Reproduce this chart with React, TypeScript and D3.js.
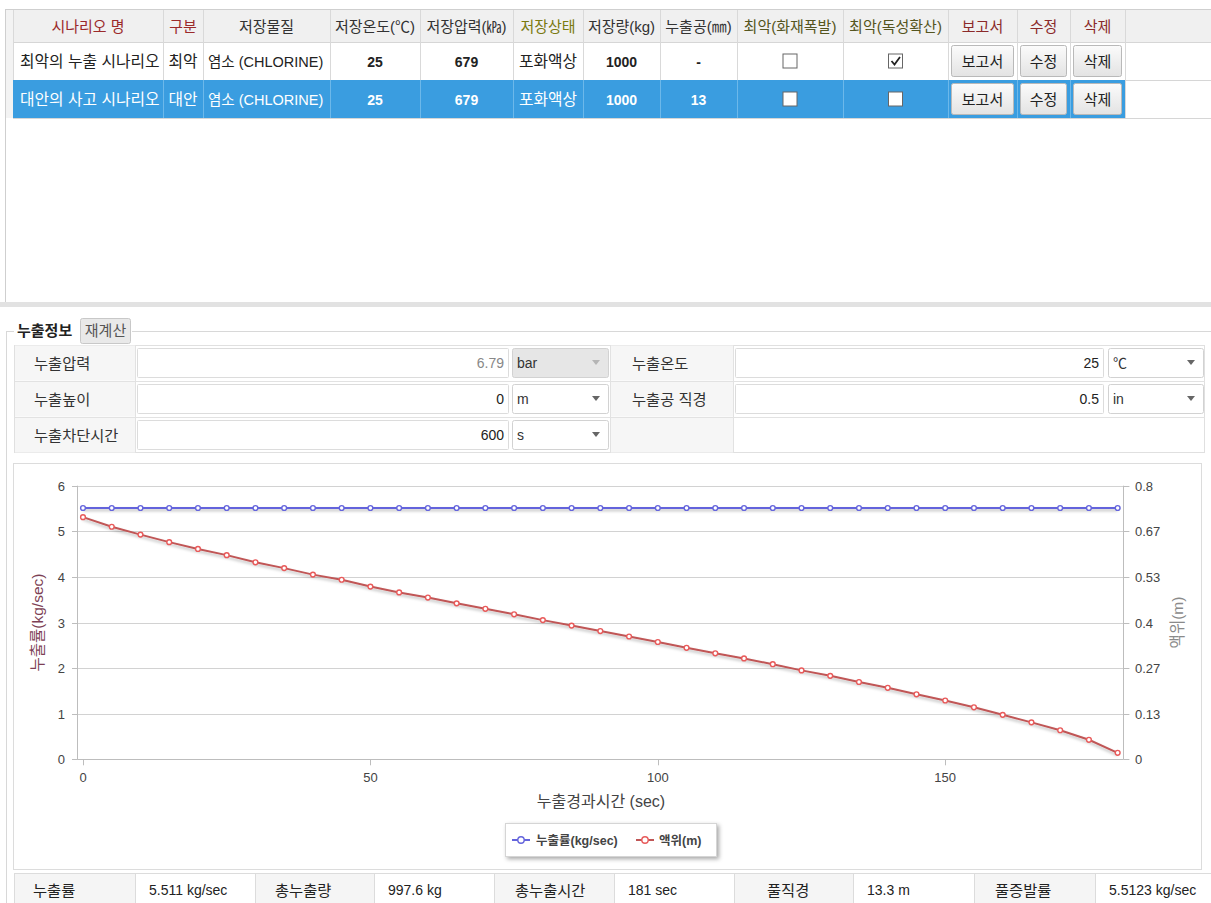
import React from 'react';
import * as d3 from 'd3';

// ---------- DATA ----------
const columns = ['시나리오 명', '구분', '저장물질', '저장온도(℃)', '저장압력(㎪)', '저장상태', '저장량(kg)', '누출공(㎜)', '최악(화재폭발)', '최악(독성확산)', '보고서', '수정', '삭제'];
const scenarioNames = ['최악의 누출 시나리오', '대안의 사고 시나리오'];
const scenarioTypes = ['최악', '대안'];
const substances = ['염소 (CHLORINE)', '염소 (CHLORINE)'];
const storageTemps = ['25', '25'];
const storagePressures = ['679', '679'];
const storageStates = ['포화액상', '포화액상'];
const storageAmounts = ['1000', '1000'];
const holeSizes = ['-', '13'];
const fireChecked = [false, false];
const toxicChecked = [true, false];
const buttonLabels = ['보고서', '수정', '삭제'];

const formLabelsLeft = ['누출압력', '누출높이', '누출차단시간'];
const formValuesLeft = ['6.79', '0', '600'];
const formUnitsLeft = ['bar', 'm', 's'];
const formLabelsRight = ['누출온도', '누출공 직경'];
const formValuesRight = ['25', '0.5'];
const formUnitsRight = ['℃', 'in'];

const timeSec = [0, 5, 10, 15, 20, 25, 30, 35, 40, 45, 50, 55, 60, 65, 70, 75, 80, 85, 90, 95, 100, 105, 110, 115, 120, 125, 130, 135, 140, 145, 150, 155, 160, 165, 170, 175, 180];
const leakRate = [5.511, 5.511, 5.511, 5.511, 5.511, 5.511, 5.511, 5.511, 5.511, 5.511, 5.511, 5.511, 5.511, 5.511, 5.511, 5.511, 5.511, 5.511, 5.511, 5.511, 5.511, 5.511, 5.511, 5.511, 5.511, 5.511, 5.511, 5.511, 5.511, 5.511, 5.511, 5.511, 5.511, 5.511, 5.511, 5.511, 5.511];
const liquidLevel = [0.708, 0.680, 0.657, 0.635, 0.615, 0.597, 0.576, 0.559, 0.540, 0.525, 0.505, 0.488, 0.473, 0.456, 0.440, 0.424, 0.407, 0.391, 0.375, 0.359, 0.343, 0.326, 0.310, 0.295, 0.278, 0.260, 0.244, 0.226, 0.209, 0.190, 0.172, 0.152, 0.130, 0.108, 0.085, 0.057, 0.019];
const leftTicks = [0, 1, 2, 3, 4, 5, 6];
const rightTickLabels = ['0', '0.13', '0.27', '0.4', '0.53', '0.67', '0.8'];
const xTicks = [0, 50, 100, 150];
const seriesNames = ['누출률(kg/sec)', '액위(m)'];

const summaryLabels = ['누출률', '총누출량', '총누출시간', '풀직경', '풀증발률'];
const summaryValues = ['5.511 kg/sec', '997.6 kg', '181 sec', '13.3 m', '5.5123 kg/sec'];

// ---------- LAYOUT ----------
const FONT = "'Liberation Sans', Arial, 'Noto Sans CJK KR', sans-serif";
const W = 1211;
const H = 903;
const COL_EDGES = [13, 163, 203, 330, 420, 513, 583, 660, 737, 843, 948, 1017, 1070, 1125];
const HEADER_COLORS = ['#9b2a2a', '#9b2a2a', '#333', '#333', '#333', '#7a7a10', '#333', '#333', '#555520', '#555520', '#8b2a2a', '#8b2a2a', '#8b2a2a'];
const HEADER_Y = 10, HEADER_H = 32, ROW_H = 38;
const SEL_BLUE = '#3a9de0';
const BLUE = '#6464dc';
const RED_LINE = '#c05656';
const RED_MARK = '#e85a5a';

const SUMMARY_EDGES = [14, 135, 255, 374, 494, 614, 734, 853, 974, 1095, 1211];
const SUMMARY_LABEL_X = [33, 275, 515, 767, 995];

const x = d3.scaleLinear().domain([-1, 181]).range([77.25, 1123.4]);
const yL = d3.scaleLinear().domain([0, 6]).range([759.3, 485.7]);
const yR = d3.scaleLinear().domain([0, 0.8]).range([759.3, 485.7]);

function Checkbox({ cx, cy, checked }: { cx: number; cy: number; checked: boolean }) {
  return (
    <g>
      <rect x={cx - 7} y={cy - 7} width={14} height={14} fill="#fff" stroke="#666" strokeWidth={1} />
      {checked && <path d={`M${cx - 4},${cy} L${cx - 1},${cy + 3.5} L${cx + 4.5},${cy - 4}`} fill="none" stroke="#222" strokeWidth={1.8} />}
    </g>
  );
}

function Button({ x0, x1, y0, label }: { x0: number; x1: number; y0: number; label: string }) {
  return (
    <g>
      <rect x={x0 + 3.5} y={y0 + 3.5} width={x1 - x0 - 7} height={ROW_H - 7} rx={2} fill="url(#btnGrad)" stroke="#b9b9b9" />
      <text x={(x0 + x1) / 2} y={y0 + ROW_H / 2 + 5.5} textAnchor="middle" fontSize={15} fill="#222" fontFamily={FONT}>{label}</text>
    </g>
  );
}

function Select({ x0, x1, y0, h, label, disabled }: { x0: number; x1: number; y0: number; h: number; label: string; disabled?: boolean }) {
  const cy = y0 + h / 2;
  return (
    <g>
      <rect x={x0 + 0.5} y={y0 + 0.5} width={x1 - x0} height={h} rx={2} fill={disabled ? '#e6e6e6' : '#fff'} stroke="#d2d2d2" />
      <text x={x0 + 5} y={cy + 5} fontSize={14} fill="#333" fontFamily={FONT}>{label}</text>
      <path d={`M${x1 - 16},${cy - 2.5} L${x1 - 8},${cy - 2.5} L${x1 - 12},${cy + 2.5} Z`} fill={disabled ? '#b5b5b5' : '#666'} />
    </g>
  );
}

export default function App() {
  const rows = scenarioNames.map((name, i) => ({
    name, type: scenarioTypes[i], sub: substances[i], temp: storageTemps[i], pres: storagePressures[i],
    state: storageStates[i], amt: storageAmounts[i], hole: holeSizes[i], fire: fireChecked[i], toxic: toxicChecked[i],
  }));

  const blueLine = d3.line<number>().x((_, i) => x(timeSec[i])).y((d) => yL(d))(leakRate) || '';
  const redLine = d3.line<number>().x((_, i) => x(timeSec[i])).y((d) => yR(d))(liquidLevel) || '';

  const formRowY = [345, 381, 417];
  const formRowH = 36;

  return (
    <svg width={W} height={H} style={{ position: 'absolute', left: 0, top: 0, background: '#fff' }} fontFamily={FONT}>
      <defs>
        <linearGradient id="btnGrad" x1="0" y1="0" x2="0" y2="1">
          <stop offset="0" stopColor="#fbfbfb" />
          <stop offset="1" stopColor="#e3e3e3" />
        </linearGradient>
        <filter id="lineShadow" filterUnits="userSpaceOnUse" x="0" y="0" width={W} height={H}>
          <feDropShadow dx="0" dy="2" stdDeviation="1.4" floodColor="#000" floodOpacity="0.28" />
        </filter>
        <filter id="boxShadow" filterUnits="userSpaceOnUse" x="480" y="800" width="280" height="90">
          <feDropShadow dx="2" dy="2" stdDeviation="2" floodColor="#000" floodOpacity="0.35" />
        </filter>
      </defs>

      {/* ===== Top grid ===== */}
      <rect x={5.5} y={9.5} width={W} height={296} fill="#fff" stroke="#cfcfcf" />
      <rect x={6} y={10} width={7} height={108} fill="#f3f3f3" />
      <rect x={13} y={HEADER_Y} width={W - 13} height={HEADER_H} fill="#f0f0f0" />
      <line x1={13} x2={W} y1={HEADER_Y + HEADER_H + 0.5} y2={HEADER_Y + HEADER_H + 0.5} stroke="#d6d6d6" />
      {columns.map((c, i) => (
        <g key={c}>
          <text x={(COL_EDGES[i] + COL_EDGES[i + 1]) / 2} y={HEADER_Y + 21.5} textAnchor="middle" fontSize={15} fill={HEADER_COLORS[i]}>{c}</text>
          <line x1={COL_EDGES[i + 1] + 0.5} x2={COL_EDGES[i + 1] + 0.5} y1={HEADER_Y} y2={HEADER_Y + HEADER_H + ROW_H * 2} stroke="#d9d9d9" />
        </g>
      ))}
      <line x1={13.5} x2={13.5} y1={HEADER_Y} y2={HEADER_Y + HEADER_H + ROW_H * 2} stroke="#d9d9d9" />
      {rows.map((r, i) => {
        const y0 = HEADER_Y + HEADER_H + i * ROW_H;
        const sel = i === 1;
        const fg = sel ? '#fff' : '#222';
        const ty = y0 + ROW_H / 2 + 5.5;
        const cc = (k: number) => (COL_EDGES[k] + COL_EDGES[k + 1]) / 2;
        return (
          <g key={i}>
            {sel && <rect x={13} y={y0} width={COL_EDGES[13] - 13} height={ROW_H} fill={SEL_BLUE} />}
            {COL_EDGES.slice(1, 13).map((e) => (
              <line key={e} x1={e + 0.5} x2={e + 0.5} y1={y0} y2={y0 + ROW_H} stroke={sel ? '#6cb8ea' : '#d9d9d9'} />
            ))}
            <line x1={13} x2={W} y1={y0 + ROW_H + 0.5} y2={y0 + ROW_H + 0.5} stroke="#d6d6d6" />
            <text x={20} y={ty} fontSize={15.8} fill={fg}>{r.name}</text>
            <text x={cc(1)} y={ty} fontSize={15.8} fill={fg} textAnchor="middle">{r.type}</text>
            <text x={208} y={ty} fontSize={14.5} fill={fg}>{r.sub}</text>
            <text x={cc(3)} y={ty} fontSize={14} fontWeight="bold" fill={fg} textAnchor="middle">{r.temp}</text>
            <text x={cc(4)} y={ty} fontSize={14} fontWeight="bold" fill={fg} textAnchor="middle">{r.pres}</text>
            <text x={cc(5)} y={ty} fontSize={15.8} fill={fg} textAnchor="middle">{r.state}</text>
            <text x={cc(6)} y={ty} fontSize={14} fontWeight="bold" fill={fg} textAnchor="middle">{r.amt}</text>
            <text x={cc(7)} y={ty} fontSize={14} fontWeight="bold" fill={fg} textAnchor="middle">{r.hole}</text>
            <Checkbox cx={cc(8)} cy={y0 + ROW_H / 2} checked={r.fire} />
            <Checkbox cx={cc(9)} cy={y0 + ROW_H / 2} checked={r.toxic} />
            {buttonLabels.map((b, k) => (
              <Button key={b} x0={COL_EDGES[10 + k]} x1={COL_EDGES[11 + k]} y0={y0} label={b} />
            ))}
          </g>
        );
      })}
      <rect x={0} y={302} width={W} height={5} fill="#e2e2e2" />

      {/* ===== Form group ===== */}
      <line x1={6} x2={14} y1={331.5} y2={331.5} stroke="#d8d8d8" />
      <line x1={132} x2={W} y1={331.5} y2={331.5} stroke="#d8d8d8" />
      <line x1={6.5} x2={6.5} y1={331} y2={H} stroke="#d8d8d8" />
      <text x={17} y={336} fontSize={15} fontWeight="bold" fill="#222">누출정보</text>
      <rect x={80.5} y={318.5} width={50} height={25} rx={2} fill="#e9e9e9" stroke="#c8c8c8" />
      <text x={105.5} y={336} fontSize={15} textAnchor="middle" fill="#555">재계산</text>

      <rect x={14.5} y={345.5} width={1190} height={107} fill="#fff" stroke="#e0e0e0" />
      {formRowY.map((ry, i) => (
        <g key={ry}>
          <rect x={15} y={ry + 0.5} width={120} height={formRowH - 1} fill="#f6f6f6" />
          <text x={34} y={ry + 23.5} fontSize={15.3} fill="#333">{formLabelsLeft[i]}</text>
          <rect x={137.5} y={ry + 3.5} width={371} height={formRowH - 7} fill="#fff" stroke="#dcdcdc" rx={1} />
          <text x={504} y={ry + 23} fontSize={14} textAnchor="end" fill={i === 0 ? '#888' : '#222'}>{formValuesLeft[i]}</text>
          <Select x0={512} x1={608} y0={ry + 3} h={formRowH - 7} label={formUnitsLeft[i]} disabled={i === 0} />
          <rect x={611} y={ry + 0.5} width={122} height={formRowH - 1} fill="#f6f6f6" />
          {i < 2 && (
            <g>
              <text x={632} y={ry + 23.5} fontSize={15.3} fill="#333">{formLabelsRight[i]}</text>
              <rect x={735.5} y={ry + 3.5} width={368} height={formRowH - 7} fill="#fff" stroke="#dcdcdc" rx={1} />
              <text x={1099} y={ry + 23} fontSize={14} textAnchor="end" fill="#222">{formValuesRight[i]}</text>
              <Select x0={1108} x1={1203} y0={ry + 3} h={formRowH - 7} label={formUnitsRight[i]} />
            </g>
          )}
          {i > 0 && <line x1={15} x2={1205} y1={ry + 0.5} y2={ry + 0.5} stroke="#e2e2e2" />}
          <line x1={135.5} x2={135.5} y1={ry} y2={ry + formRowH} stroke="#e2e2e2" />
          <line x1={610.5} x2={610.5} y1={ry} y2={ry + formRowH} stroke="#e2e2e2" />
          <line x1={733.5} x2={733.5} y1={ry} y2={ry + formRowH} stroke="#e2e2e2" />
        </g>
      ))}

      {/* ===== Chart ===== */}
      <rect x={13.5} y={463.5} width={1188} height={406} fill="#fff" stroke="#dcdcdc" />
      {leftTicks.map((t) => (
        <g key={t}>
          <line x1={x(-1)} x2={x(181)} y1={Math.round(yL(t)) + 0.5} y2={Math.round(yL(t)) + 0.5} stroke="#d2d2d2" />
          <line x1={72} x2={x(-1)} y1={Math.round(yL(t)) + 0.5} y2={Math.round(yL(t)) + 0.5} stroke="#bdbdbd" />
          <text x={65} y={yL(t) + 5} fontSize={13} textAnchor="end" fill="#444">{t}</text>
        </g>
      ))}
      {rightTickLabels.map((lab, i) => {
        const v = (0.8 / 6) * i;
        const yy = Math.round(yR(v)) + 0.5;
        return (
          <g key={lab}>
            <line x1={x(181)} x2={x(181) + 6} y1={yy} y2={yy} stroke="#bdbdbd" />
            <text x={1135} y={yR(v) + 5} fontSize={13} fill="#444">{lab}</text>
          </g>
        );
      })}
      <line x1={Math.round(x(-1)) + 0.5} x2={Math.round(x(-1)) + 0.5} y1={yL(6)} y2={yL(0)} stroke="#bdbdbd" />
      <line x1={Math.round(x(181)) + 0.5} x2={Math.round(x(181)) + 0.5} y1={yR(0.8)} y2={yR(0)} stroke="#bdbdbd" />
      <line x1={x(-1)} x2={x(181)} y1={Math.round(yL(0)) + 0.5} y2={Math.round(yL(0)) + 0.5} stroke="#bdbdbd" />
      {xTicks.map((t) => (
        <g key={t}>
          <line x1={Math.round(x(t)) + 0.5} x2={Math.round(x(t)) + 0.5} y1={yL(0)} y2={yL(0) + 6} stroke="#bdbdbd" />
          <text x={x(t)} y={782} fontSize={13} textAnchor="middle" fill="#444">{t}</text>
        </g>
      ))}
      <text x={601} y={807} fontSize={16} textAnchor="middle" fill="#444">누출경과시간 (sec)</text>
      <text transform={`translate(43,${(yL(0) + yL(6)) / 2}) rotate(-90)`} fontSize={15.5} textAnchor="middle" fill="#7d3f55">누출률(kg/sec)</text>
      <text transform={`translate(1183,${(yL(0) + yL(6)) / 2}) rotate(-90)`} fontSize={15.5} textAnchor="middle" fill="#8a8a8a">액위(m)</text>

      <path d={redLine} fill="none" stroke={RED_LINE} strokeWidth={2} filter="url(#lineShadow)" />
      <path d={blueLine} fill="none" stroke={BLUE} strokeWidth={2} filter="url(#lineShadow)" />
      {liquidLevel.map((v, i) => (
        <circle key={`r${i}`} cx={x(timeSec[i])} cy={yR(v)} r={2.4} fill="#fff" stroke={RED_MARK} strokeWidth={1.4} />
      ))}
      {leakRate.map((v, i) => (
        <circle key={`b${i}`} cx={x(timeSec[i])} cy={yL(v)} r={2.4} fill="#fff" stroke={BLUE} strokeWidth={1.4} />
      ))}

      {/* legend */}
      <rect x={505.5} y={823.5} width={211} height={33} fill="#fff" stroke="#d5d5d5" filter="url(#boxShadow)" />
      <line x1={512} x2={530} y1={840} y2={840} stroke={BLUE} strokeWidth={2} />
      <circle cx={521} cy={840} r={3.2} fill="#fff" stroke={BLUE} strokeWidth={1.4} />
      <text x={536} y={844.5} fontSize={12.5} fontWeight="bold" fill="#444">{seriesNames[0]}</text>
      <line x1={636} x2={654} y1={840} y2={840} stroke={RED_LINE} strokeWidth={2} />
      <circle cx={645} cy={840} r={3.2} fill="#fff" stroke={RED_MARK} strokeWidth={1.4} />
      <text x={659} y={844.5} fontSize={12.5} fontWeight="bold" fill="#444">{seriesNames[1]}</text>

      {/* ===== Summary row ===== */}
      {summaryLabels.map((lab, i) => (
        <g key={lab}>
          <rect x={SUMMARY_EDGES[i * 2]} y={873.5} width={SUMMARY_EDGES[i * 2 + 1] - SUMMARY_EDGES[i * 2]} height={40} fill="#f5f5f5" />
          <text x={SUMMARY_LABEL_X[i]} y={895.5} fontSize={15.3} fill="#222">{lab}</text>
          <text x={SUMMARY_EDGES[i * 2 + 1] + 14} y={895} fontSize={14} fill="#222">{summaryValues[i]}</text>
        </g>
      ))}
      <line x1={14} x2={W} y1={873.5} y2={873.5} stroke="#dcdcdc" />
      {SUMMARY_EDGES.slice(0, 10).map((e) => (
        <line key={e} x1={e + 0.5} x2={e + 0.5} y1={873} y2={H} stroke="#dcdcdc" />
      ))}
    </svg>
  );
}
